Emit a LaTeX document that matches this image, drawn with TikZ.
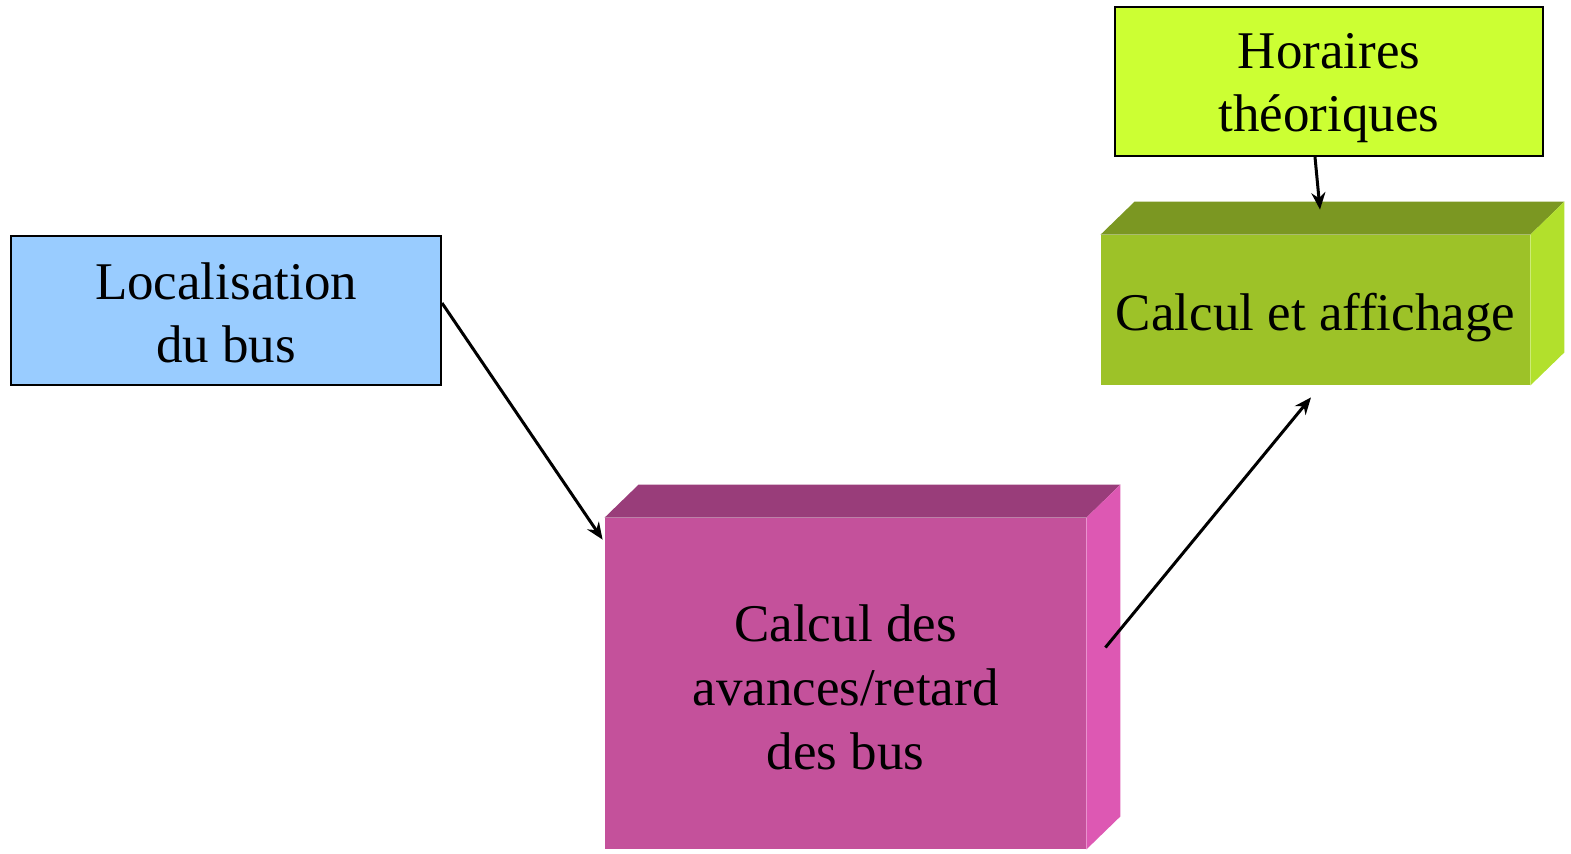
\documentclass[tikz,border=0pt]{standalone}
\usepackage{fontspec}
\setmainfont{Liberation Serif}
\usetikzlibrary{arrows.meta,calc}
\definecolor{locblue}{HTML}{99CCFF}
\definecolor{horgreen}{HTML}{CCFF33}
\definecolor{magfront}{HTML}{C4519B}
\definecolor{magtop}{HTML}{993D7A}
\definecolor{magside}{HTML}{DD58B3}
\definecolor{olvfront}{HTML}{9DC228}
\definecolor{olvtop}{HTML}{7B9722}
\definecolor{olvside}{HTML}{B2E02C}
\tikzset{
  lbl/.style={font=\fontsize{26.5}{31.5}\selectfont, align=center, text=black, inner sep=0pt},
  flatbox/.style={draw=black, line width=1pt, inner sep=0pt},
  frontface/.style={inner sep=0pt},
  link/.style={-{Stealth[length=8.5pt,width=7pt]}, line width=1.5pt},
}
\begin{document}
\begin{tikzpicture}[x=0.5pt,y=-0.5pt]
\useasboundingbox (0,0) rectangle (1571,853);

% flat input boxes
\node[flatbox, fill=locblue, minimum width=215pt, minimum height=74.5pt]
  (loc) at (226,310.5) {};
\node[lbl] (loc-t) at ([yshift=-1pt]loc.center) {Localisation\\du bus};
\node[flatbox, fill=horgreen, minimum width=214pt, minimum height=74.5pt]
  (hor) at (1329,81.5) {};
\node[lbl] (hor-t) at ([yshift=-3.5pt]hor.center) {Horaires\\théoriques};

% 3D block: computation of delays
\node[frontface, fill=magfront, minimum width=240.5pt, minimum height=165.5pt]
  (calc) at (845.5,683.5) {};
\fill[magtop] (calc.north west) -- ++(34,-33) -- ([shift={(34,-33)}]calc.north east) -- (calc.north east) -- cycle;
\fill[magside] (calc.north east) -- ([shift={(34,-33)}]calc.north east) -- ([shift={(34,-33)}]calc.south east) -- (calc.south east) -- cycle;
\node[lbl, font=\fontsize{26.5}{32}\selectfont] (calc-t) at ([yshift=-2pt]calc.center) {Calcul des\\avances/retard\\des bus};

% 3D block: computation and display
\node[frontface, fill=olvfront, minimum width=214.5pt, minimum height=75pt]
  (disp) at (1315.5,310) {};
\fill[olvtop] (disp.north west) -- ++(34,-33) -- ([shift={(34,-33)}]disp.north east) -- (disp.north east) -- cycle;
\fill[olvside] (disp.north east) -- ([shift={(34,-33)}]disp.north east) -- ([shift={(34,-33)}]disp.south east) -- (disp.south east) -- cycle;
\node[lbl] (disp-t) at ([yshift=-4pt]disp.center) {Calcul et affichage};

% connectors
\draw[link] ([yshift=3.75pt]loc.east) -- ([shift={(-2,22)}]calc.north west);
\draw[link] ([shift={(19,-36)}]calc.east) -- ([shift={(-4.5,12)}]disp.south);
\draw[link] ([xshift=-7pt]hor.south) -- ([shift={(4.5,-25)}]disp.north);
\end{tikzpicture}
\end{document}
